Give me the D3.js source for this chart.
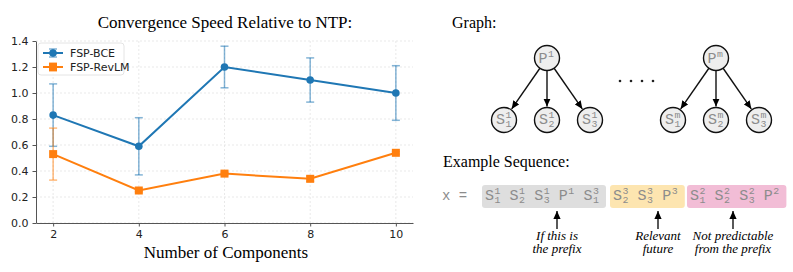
<!DOCTYPE html>
<html>
<head>
<meta charset="utf-8">
<script src="https://cdn.jsdelivr.net/npm/d3@7"></script>
<style>
    body { margin: 0; background: #fff; }
    svg { display: block; }
</style>
</head>
<body>
<script>
const width = 793,
    height = 272;

// chart data
const components = [2, 4, 6, 8, 10];
const bce_mean = [0.83, 0.59, 1.20, 1.10, 1.00];
const bce_err = [0.24, 0.22, 0.16, 0.17, 0.21];
const revlm_mean = [0.53, 0.25, 0.38, 0.34, 0.54];
const revlm_err = [0.20, 0.01, 0.01, 0.02, 0.01];
const y_ticks = [0.0, 0.2, 0.4, 0.6, 0.8, 1.0, 1.2, 1.4];

// graph diagram data
const parents = [{label: 'P', sup: '1', x: 547}, {label: 'P', sup: 'm', x: 716}];
const child_subs = ['1', '2', '3'];

// example sequence: [base, sup, sub]
const seq_prefix = [['S', '1', '1'], ['S', '1', '2'], ['S', '1', '3'], ['P', '1', ''], ['S', '3', '1']];
const seq_future = [['S', '3', '2'], ['S', '3', '3'], ['P', '3', '']];
const seq_other = [['S', '2', '1'], ['S', '2', '2'], ['S', '2', '3'], ['P', '2', '']];
const notes = [
    {lines: ['If this is', 'the prefix'], x: 557},
    {lines: ['Relevant', 'future'], x: 658},
    {lines: ['Not predictable', 'from the prefix'], x: 733}
];

const serif = '"Liberation Serif", "DejaVu Serif", serif',
    sans = '"DejaVu Sans", sans-serif',
    mono = '"Liberation Mono", "DejaVu Sans Mono", monospace';

const svg = d3.select('body').append('svg')
    .attr('width', width)
    .attr('height', height);

const defs = svg.append('defs');
defs.append('marker')
    .attr('id', 'arrowhead')
    .attr('viewBox', '0 -5 10 10')
    .attr('refX', 10).attr('refY', 0)
    .attr('orient', 'auto')
    .attr('markerUnits', 'userSpaceOnUse')
    .attr('markerWidth', 8).attr('markerHeight', 8)
    .append('path')
    .attr('d', 'M0,-4.5L10,0L0,4.5Z')
    .attr('fill', '#000');

// ---------- line chart ----------
const x = d3.scaleLinear().domain([1.6, 10.4]).range([36, 413]);
const y = d3.scaleLinear().domain([0, 1.4]).range([223, 41]);

const chart = svg.append('g');

// grid
chart.append('g').selectAll('line')
    .data(components)
    .enter().append('line')
    .attr('x1', d => x(d)).attr('x2', d => x(d))
    .attr('y1', y(0)).attr('y2', y(1.4))
    .attr('stroke', '#e3e3e3').attr('stroke-dasharray', '2,2').attr('stroke-width', 0.8);
chart.append('g').selectAll('line')
    .data(y_ticks)
    .enter().append('line')
    .attr('x1', x(1.6)).attr('x2', x(10.4))
    .attr('y1', d => y(d)).attr('y2', d => y(d))
    .attr('stroke', '#e3e3e3').attr('stroke-dasharray', '2,2').attr('stroke-width', 0.8);

// axes
const x_axis = chart.append('g')
    .attr('transform', 'translate(0,' + y(0) + ')')
    .call(d3.axisBottom(x).tickValues(components).tickSize(3.5).tickPadding(4).tickSizeOuter(0));
const y_axis = chart.append('g')
    .attr('transform', 'translate(' + x(1.6) + ',0)')
    .call(d3.axisLeft(y).tickValues(y_ticks).tickFormat(d3.format('.1f')).tickSize(3.5).tickPadding(4).tickSizeOuter(0));
[x_axis, y_axis].forEach(a => {
    a.select('.domain').attr('stroke', '#555').attr('stroke-width', 1);
    a.selectAll('.tick line').attr('stroke', '#555');
    a.selectAll('.tick text')
        .attr('font-family', sans).attr('font-size', 11).attr('fill', '#222');
});

const series = [
    {name: 'FSP-BCE', mean: bce_mean, err: bce_err, color: '#1f77b4', marker: 'circle'},
    {name: 'FSP-RevLM', mean: revlm_mean, err: revlm_err, color: '#ff7f0e', marker: 'square'}
];

const line = d3.line()
    .x(d => x(d.x))
    .y(d => y(d.y));

series.forEach(s => {
    const pts = components.map((c, i) => ({x: c, y: s.mean[i], e: s.err[i]}));
    const g = chart.append('g');

    // error bars
    const eb = g.append('g').attr('stroke', s.color).attr('stroke-opacity', 0.55).attr('stroke-width', 1.5);
    eb.selectAll('line.v').data(pts).enter().append('line')
        .attr('class', 'v')
        .attr('x1', d => x(d.x)).attr('x2', d => x(d.x))
        .attr('y1', d => y(d.y - d.e)).attr('y2', d => y(d.y + d.e));
    [-1, 1].forEach(sign => {
        eb.selectAll('line.c' + sign).data(pts).enter().append('line')
            .attr('x1', d => x(d.x) - 4).attr('x2', d => x(d.x) + 4)
            .attr('y1', d => y(d.y + sign * d.e)).attr('y2', d => y(d.y + sign * d.e));
    });

    g.append('path')
        .datum(pts)
        .attr('d', line)
        .attr('fill', 'none')
        .attr('stroke', s.color)
        .attr('stroke-width', 2);

    if (s.marker === 'circle') {
        g.selectAll('circle').data(pts).enter().append('circle')
            .attr('cx', d => x(d.x)).attr('cy', d => y(d.y))
            .attr('r', 3.8).attr('fill', s.color);
    } else {
        g.selectAll('rect').data(pts).enter().append('rect')
            .attr('x', d => x(d.x) - 4).attr('y', d => y(d.y) - 4)
            .attr('width', 8).attr('height', 8).attr('fill', s.color);
    }
});

// legend
const legend = chart.append('g');
legend.append('rect')
    .attr('x', 38).attr('y', 43).attr('width', 86).attr('height', 32).attr('rx', 3)
    .attr('fill', '#fff').attr('fill-opacity', 0.85)
    .attr('stroke', '#ddd').attr('stroke-width', 0.8);
series.forEach((s, i) => {
    const ly = 53 + i * 14;
    const lg = legend.append('g');
    lg.append('line').attr('x1', 43).attr('x2', 63).attr('y1', ly).attr('y2', ly)
        .attr('stroke', s.color).attr('stroke-width', 2);
    lg.append('line').attr('x1', 53).attr('x2', 53).attr('y1', ly - 4).attr('y2', ly + 4)
        .attr('stroke', s.color).attr('stroke-opacity', 0.55).attr('stroke-width', 1.5);
    [-4, 4].forEach(o => lg.append('line').attr('x1', 49).attr('x2', 57).attr('y1', ly + o).attr('y2', ly + o)
        .attr('stroke', s.color).attr('stroke-opacity', 0.55).attr('stroke-width', 1.5));
    if (s.marker === 'circle')
        lg.append('circle').attr('cx', 53).attr('cy', ly).attr('r', 3.8).attr('fill', s.color);
    else
        lg.append('rect').attr('x', 49).attr('y', ly - 4).attr('width', 8).attr('height', 8).attr('fill', s.color);
    lg.append('text').attr('x', 70).attr('y', ly + 4)
        .attr('font-family', sans).attr('font-size', 11).attr('fill', '#222')
        .text(s.name);
});

chart.append('text')
    .attr('x', 225).attr('y', 28)
    .attr('text-anchor', 'middle')
    .attr('font-family', serif).attr('font-size', 17)
    .text('Convergence Speed Relative to NTP:');
chart.append('text')
    .attr('x', 226).attr('y', 258)
    .attr('text-anchor', 'middle')
    .attr('font-family', serif).attr('font-size', 17)
    .text('Number of Components');

// ---------- graph diagram ----------
// one text element per token: base letter, then stacked superscript / subscript
function draw_token(g, tx, ty, base, sup, sub, size) {
    const small = size * 0.66,
        small_w = small * 0.6;
    const t = g.append('text').attr('x', tx).attr('y', ty)
        .attr('font-family', mono).attr('font-size', size).attr('fill', '#8c8c8c');
    t.append('tspan').text(base);
    if (sup) t.append('tspan')
        .attr('dx', 0.5).attr('dy', -size * 0.38)
        .attr('font-size', small)
        .text(sup);
    if (sub) t.append('tspan')
        .attr('dx', sup ? -small_w : 0.5).attr('dy', sup ? size * 0.6 : size * 0.22)
        .attr('font-size', small)
        .text(sub);
}

const diagram = svg.append('g');
diagram.append('text')
    .attr('x', 452).attr('y', 28)
    .attr('font-family', serif).attr('font-size', 16)
    .text('Graph:');

const node_r = 12.5,
    parent_y = 58,
    child_y = 120,
    child_dx = 43;

parents.forEach(p => {
    const kids = child_subs.map((s, i) => ({x: p.x + (i - 1) * child_dx, sub: s}));
    kids.forEach(k => {
        const dx = k.x - p.x, dy = child_y - parent_y, dr = Math.sqrt(dx * dx + dy * dy);
        diagram.append('line')
            .attr('x1', p.x + dx * node_r / dr).attr('y1', parent_y + dy * node_r / dr)
            .attr('x2', k.x - dx * (node_r + 1) / dr).attr('y2', child_y - dy * (node_r + 1) / dr)
            .attr('stroke', '#111').attr('stroke-width', 1.4)
            .attr('marker-end', 'url(#arrowhead)');
    });
    diagram.append('circle').attr('cx', p.x).attr('cy', parent_y).attr('r', node_r)
        .attr('fill', '#eeeeee').attr('stroke', '#111').attr('stroke-width', 1.4);
    draw_token(diagram, p.x - 8.5, parent_y + 5, p.label, p.sup, '', 15);
    kids.forEach(k => {
        diagram.append('circle').attr('cx', k.x).attr('cy', child_y).attr('r', node_r)
            .attr('fill', '#eeeeee').attr('stroke', '#111').attr('stroke-width', 1.4);
        draw_token(diagram, k.x - 8, child_y + 4, 'S', p.sup, k.sub, 15);
    });
});

diagram.selectAll('circle.dot')
    .data([0, 1, 2, 3])
    .enter().append('circle')
    .attr('class', 'dot')
    .attr('cx', d => 620 + d * 11).attr('cy', 81).attr('r', 1.3)
    .attr('fill', '#222');

// ---------- example sequence ----------
diagram.append('text')
    .attr('x', 443).attr('y', 167)
    .attr('font-family', serif).attr('font-size', 16)
    .text('Example Sequence:');

diagram.append('text')
    .attr('x', 442).attr('y', 200)
    .attr('font-family', mono).attr('font-size', 14).attr('fill', '#8c8c8c')
    .attr('xml:space', 'preserve')
    .text('x =');

const pitch = 24.6;
const groups = [
    {tokens: seq_prefix, start: 485, fill: '#dedede'},
    {tokens: seq_future, start: 613, fill: '#fde5b0'},
    {tokens: seq_other, start: 690, fill: '#f2bdd6'}
];
groups.forEach(gr => {
    diagram.append('rect')
        .attr('x', gr.start - 3).attr('y', 185)
        .attr('width', gr.tokens.length * pitch + 1).attr('height', 23)
        .attr('rx', 3)
        .attr('fill', gr.fill);
    gr.tokens.forEach((t, i) => {
        draw_token(diagram, gr.start + i * pitch, 200, t[0], t[1], t[2], 15);
    });
});

notes.forEach(n => {
    diagram.append('line')
        .attr('x1', n.x).attr('x2', n.x).attr('y1', 229).attr('y2', 211)
        .attr('stroke', '#000').attr('stroke-width', 1.3)
        .attr('marker-end', 'url(#arrowhead)');
    n.lines.forEach((l, i) => {
        diagram.append('text')
            .attr('x', n.x).attr('y', 240 + i * 13)
            .attr('text-anchor', 'middle')
            .attr('font-family', serif).attr('font-style', 'italic').attr('font-size', 13)
            .text(l);
    });
});
</script>
</body>
</html>
